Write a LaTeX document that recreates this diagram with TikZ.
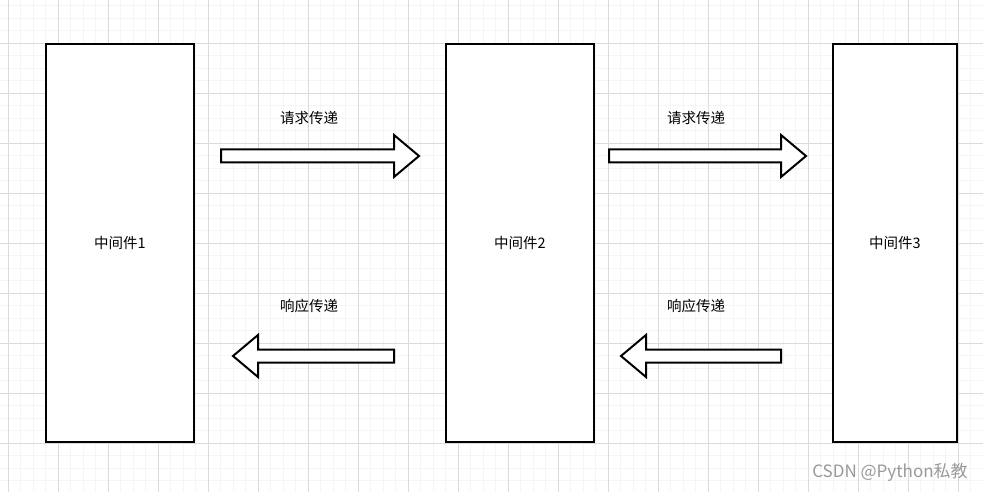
\documentclass[tikz,border=0pt]{standalone}
\usepackage{fontspec}
\newfontfamily\cjk{Noto Sans CJK SC}
\begin{document}
\begin{tikzpicture}[x=1pt, y=-1pt, font=\cjk\fontsize{14.5}{16}\selectfont,
	box/.style={draw, line width=2pt, fill=white, minimum width=148pt, minimum height=398pt, inner sep=0pt},
	label/.style={inner sep=1pt}]
	\useasboundingbox[fill=white] (0,0) rectangle (983,492);

	% grid
	\foreach \i in {0, ..., 79} {
		\pgfmathsetmacro\gx{-4.2 + 12.5 * \i}
		\draw[line width=.7pt, black!4] (\gx, 0) -- (\gx, 492);
	}
	\foreach \i in {0, ..., 39} {
		\pgfmathsetmacro\gy{5.8 + 12.5 * \i}
		\draw[line width=.7pt, black!4] (0, \gy) -- (983, \gy);
	}
	\foreach \i in {0, ..., 19} {
		\pgfmathsetmacro\gx{8.3 + 50 * \i}
		\draw[line width=.7pt, black!14] (\gx, 0) -- (\gx, 492);
	}
	\foreach \i in {0, ..., 10} {
		\pgfmathsetmacro\gy{-6.7 + 50 * \i}
		\draw[line width=.7pt, black!14] (0, \gy) -- (983, \gy);
	}

	% \blockarrow#tail#tip#y
	\def\blockarrow#1#2#3{
		\pgfmathsetmacro\d{sign(#2 - #1) * 25}
		\draw[line width=2pt, fill=white, line join=miter]
			({#1}, {#3 - 6.5}) -- ({#2 - \d}, {#3 - 6.5}) -- ({#2 - \d}, {#3 - 21})
			-- ({#2}, {#3}) -- ({#2 - \d}, {#3 + 21}) -- ({#2 - \d}, {#3 + 6.5})
			-- ({#1}, {#3 + 6.5}) -- cycle;
	}

	% middlewares
	\node[box] (mw1) at (120, 243) {中间件1};
	\node[box] (mw2) at (520, 243) {中间件2};
	\node[box, minimum width=124pt] (mw3) at (895, 243) {中间件3};

	% requests
	\blockarrow{221}{419}{156}
	\blockarrow{609}{806}{156}
	\node[label] (req1) at (309, 118) {请求传递};
	\node[label] (req2) at (696, 118) {请求传递};

	% responses
	\blockarrow{394}{233}{356}
	\blockarrow{781}{621}{356}
	\node[label] (resp1) at (309, 306) {响应传递};
	\node[label] (resp2) at (696, 306) {响应传递};

	% watermark
	\node[text=black!40, font=\cjk\fontsize{17}{19}\selectfont] (mark) at (890, 472) {CSDN @Python私教};
\end{tikzpicture}
\end{document}
